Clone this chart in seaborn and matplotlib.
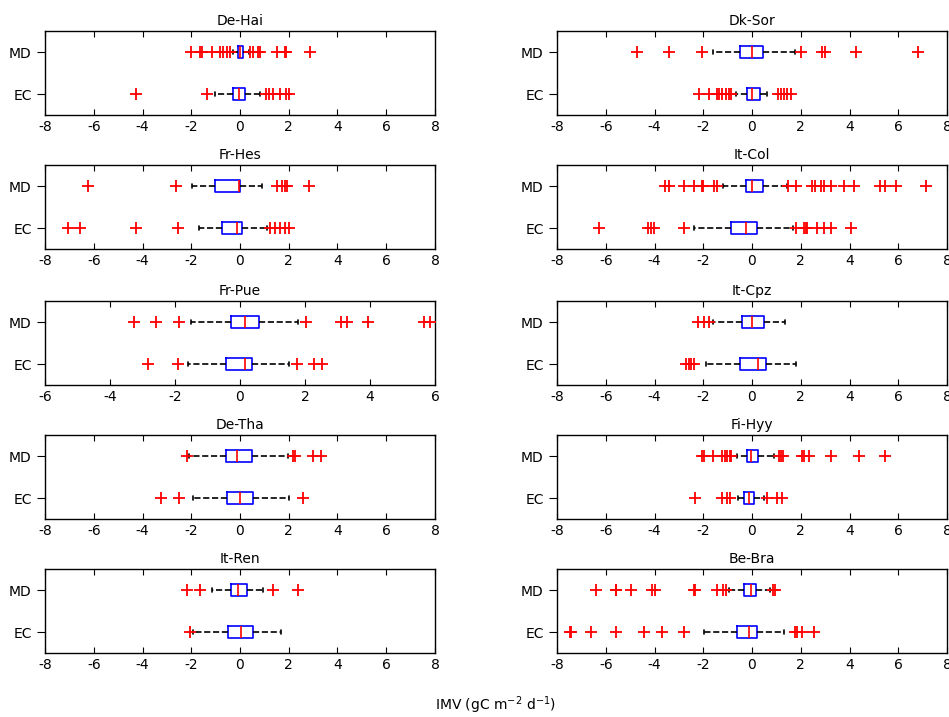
import numpy as np
import pandas as pd
import seaborn as sns
import matplotlib.pyplot as plt

sites = ['De-Hai', 'Dk-Sor', 'Fr-Hes', 'It-Col', 'Fr-Pue',
         'It-Cpz', 'De-Tha', 'Fi-Hyy', 'It-Ren', 'Be-Bra']
methods = ['MD', 'EC']

# five-number summaries per site: whisker low, q1, median, q3, whisker high
md_box = [
    [-0.3, -0.07, 0.0, 0.14, 0.35],
    [-1.6, -0.5, 0.0, 0.45, 1.75],
    [-1.95, -1.03, -0.03, 0.0, 0.9],
    [-1.2, -0.26, 0.0, 0.45, 1.45],
    [-1.52, -0.28, 0.15, 0.59, 1.77],
    [-1.6, -0.4, 0.01, 0.49, 1.35],
    [-2.1, -0.59, -0.14, 0.48, 1.98],
    [-0.6, -0.22, -0.05, 0.26, 0.9],
    [-1.15, -0.37, -0.07, 0.3, 0.93],
    [-0.95, -0.33, -0.03, 0.15, 0.75],
]
ec_box = [
    [-1.03, -0.27, -0.03, 0.21, 0.8],
    [-0.64, -0.22, 0.0, 0.32, 0.6],
    [-1.67, -0.72, -0.14, 0.08, 1.1],
    [-2.36, -0.88, -0.26, 0.22, 1.68],
    [-1.59, -0.44, 0.15, 0.36, 1.52],
    [-1.88, -0.51, 0.25, 0.58, 1.8],
    [-1.91, -0.55, 0.0, 0.55, 2.01],
    [-0.56, -0.33, -0.11, 0.08, 0.5],
    [-1.94, -0.48, 0.03, 0.55, 1.67],
    [-1.97, -0.63, -0.11, 0.19, 1.32],
]

# outliers per site
md_out = [
    [-2.0, -1.64, -1.57, -1.16, -0.82, -0.68, -0.55, -0.41,
     0.41, 0.55, 0.75, 0.82, 1.5, 1.85, 1.9, 2.87],
    [-4.7, -3.4, -2.07, 2.0, 2.89, 2.99, 4.26, 6.79],
    [-6.25, -2.63, 1.5, 1.71, 1.85, 1.94, 2.84],
    [-3.55, -3.41, -2.79, -2.38, -2.04, -2.0, -1.56, -1.45,
     1.48, 1.79, 2.48, 2.58, 2.82, 2.96, 3.23, 3.78, 4.19, 5.26, 5.45, 5.9, 7.14],
    [-3.26, -2.58, -1.87, 2.03, 3.1, 3.28, 3.95, 5.66, 5.85],
    [-2.22, -1.97, -1.77],
    [-2.16, 2.19, 2.26, 2.98, 3.31],
    [-2.04, -1.97, -1.59, -1.22, -1.12, -1.01, -0.9, -0.85,
     1.11, 1.18, 1.29, 2.07, 2.14, 2.34, 3.23, 4.37, 5.45],
    [-2.19, -1.64, 1.34, 2.37],
    [-6.38, -5.6, -5.56, -4.96, -4.12, -3.96, -2.38, -2.32,
     -1.45, -1.18, -1.08, 0.86, 0.95],
]
ec_out = [
    [-4.27, -1.37, 1.05, 1.18, 1.37, 1.64, 1.9, 2.02],
    [-2.18, -1.77, -1.45, -1.36, -1.22, -1.08, -0.95, -0.88,
     1.08, 1.18, 1.32, 1.45, 1.59],
    [-7.07, -6.56, -4.27, -2.53, 1.23, 1.44, 1.64, 1.85, 2.02],
    [-6.29, -4.27, -4.16, -4.03, -2.79, 1.79, 2.14, 2.21, 2.27,
     2.68, 2.96, 3.23, 4.05],
    [-2.84, -1.9, 1.74, 2.28, 2.51],
    [-2.7, -2.59, -2.49, -2.38],
    [-3.25, -2.49, 2.6],
    [-2.32, -1.22, -1.01, -0.9, 0.63, 1.04, 1.25],
    [-2.05],
    [-7.45, -7.41, -6.6, -5.6, -4.44, -3.68, -2.79, 1.75, 1.86, 2.07, 2.55],
]

xlims = {'Fr-Pue': 6}

box_rows = []
out_rows = []
for i, site in enumerate(sites):
    for method, boxes, outs in (('MD', md_box, md_out), ('EC', ec_box, ec_out)):
        for v in boxes[i]:
            box_rows.append((site, method, v))
        for v in outs[i]:
            out_rows.append((site, method, v))
box_df = pd.DataFrame(box_rows, columns=['site', 'method', 'value'])
out_df = pd.DataFrame(out_rows, columns=['site', 'method', 'value'])

sns.set_style('white')
plt.rcParams['font.family'] = ['DejaVu Sans']
plt.rcParams['axes.unicode_minus'] = False
for key in ('text.color', 'axes.labelcolor', 'xtick.color', 'ytick.color'):
    plt.rcParams[key] = 'black'

fig = plt.figure(figsize=(9.49, 7.17), dpi=100)

tops = [31, 165, 301, 435, 569]
lefts = [45, 557]
for i, site in enumerate(sites):
    row, col = divmod(i, 2)
    ax = fig.add_axes([lefts[col] / 949, 1 - (tops[row] + 84) / 717, 390 / 949, 84 / 717])

    sns.boxplot(data=box_df[box_df['site'] == site], x='value', y='method',
                order=methods, whis=(0, 100), showfliers=False, width=0.3,
                fill=False, linewidth=1.2, ax=ax,
                boxprops=dict(color='blue'),
                medianprops=dict(color='red'),
                whiskerprops=dict(color='black', linestyle='--'),
                capprops=dict(color='black'),
                capwidths=0.1)
    sns.stripplot(data=out_df[out_df['site'] == site], x='value', y='method',
                  order=methods, jitter=False, marker='+', color='red',
                  size=8, linewidth=1.3, ax=ax)

    lim = xlims.get(site, 8)
    ax.set_xlim(-lim, lim)
    ax.set_xticks(np.arange(-lim, lim + 1, 2))
    ax.set_ylim(1.5, -0.5)
    ax.set_xlabel('')
    ax.set_ylabel('')
    ax.set_title(site, fontsize=10, pad=4, color='black')
    ax.tick_params(axis='x', direction='in', top=True, bottom=True,
                   length=4, labelsize=10, color='black', labelcolor='black')
    ax.tick_params(axis='y', direction='out', left=True, length=6,
                   labelsize=10, color='black', labelcolor='black')
    for sp in ax.spines.values():
        sp.set_color('black')
        sp.set_linewidth(1.0)

fig.text(495 / 949, 1 - 705 / 717, r'IMV (gC m$^{-2}$ d$^{-1}$)',
         ha='center', va='center', fontsize=10, color='black')

fig.savefig('out.png', dpi=100)
